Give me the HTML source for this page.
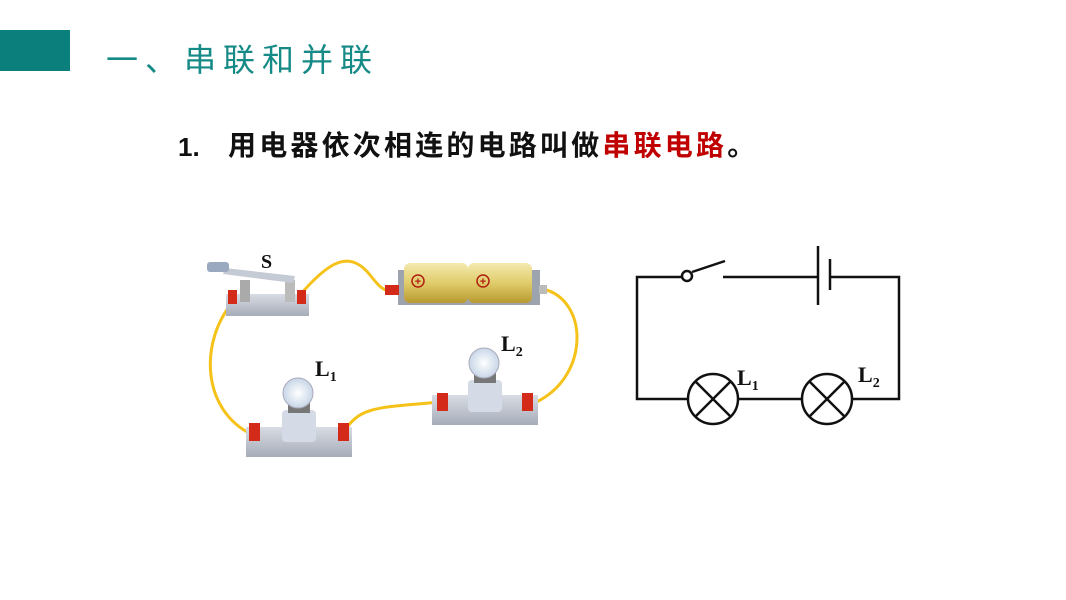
<!DOCTYPE html>
<html><head><meta charset="utf-8"><style>
body{margin:0;width:1066px;height:600px;background:#fff;position:relative;overflow:hidden;font-family:"Liberation Sans","Noto Sans CJK SC",sans-serif}
.blk{position:absolute;left:0;top:30px;width:70px;height:41px;background:#0a7f7c}
.t{position:absolute;left:106px;top:40px;font-size:32px;letter-spacing:7px;color:#168a86;line-height:40px;white-space:nowrap}
.n{position:absolute;left:178px;top:130px;font-size:26px;font-weight:bold;line-height:34px;color:#111}
.s{position:absolute;left:228px;top:129px;font-size:28px;font-weight:bold;letter-spacing:3.2px;line-height:34px;white-space:nowrap;color:#111}
.s span{color:#c00000}
svg{position:absolute;left:0;top:0}
</style></head><body>
<div class="blk"></div>
<div class="t">一、串联和并联</div>
<div class="n">1.</div>
<div class="s">用电器依次相连的电路叫做<span>串联电路</span>。</div>
<svg width="1066" height="600" viewBox="0 0 1066 600">
<defs>
<linearGradient id="bat" x1="0" y1="0" x2="0" y2="1"><stop offset="0" stop-color="#f4eab0"/><stop offset=".5" stop-color="#e0cc6a"/><stop offset="1" stop-color="#b89a30"/></linearGradient>
<linearGradient id="base" x1="0" y1="0" x2="0" y2="1"><stop offset="0" stop-color="#d8dce4"/><stop offset="1" stop-color="#a6acb8"/></linearGradient>
<radialGradient id="bulb"><stop offset="0" stop-color="#fff"/><stop offset="1" stop-color="#c8d6e8"/></radialGradient>
</defs>
<g fill="none" stroke="#f5c21a" stroke-width="3">
<path d="M300 295 C330 260 350 250 370 275 C378 285 382 290 390 291"/>
<path d="M233 302 C200 340 200 410 253 435"/>
<path d="M344 432 C360 405 380 408 440 402"/>
<path d="M543 289 C590 300 590 380 532 404"/>
</g>
<rect x="226" y="294" width="83" height="22" fill="url(#base)"/>
<rect x="240" y="280" width="10" height="22" fill="#aaa"/>
<rect x="285" y="280" width="10" height="22" fill="#bbb"/>
<polygon points="225,268 295,276 293,283 223,274" fill="#c5cbd4"/>
<rect x="207" y="262" width="22" height="10" rx="3" fill="#9aa8c0"/>
<rect x="228" y="290" width="9" height="14" fill="#d42a1a"/>
<rect x="297" y="290" width="9" height="14" fill="#d42a1a"/>
<polygon points="398,270 540,270 540,305 398,305" fill="#9ea4ae"/>
<rect x="404" y="263" width="64" height="40" rx="6" fill="url(#bat)"/>
<rect x="468" y="263" width="64" height="40" rx="6" fill="url(#bat)"/>
<circle cx="418" cy="281" r="6" fill="none" stroke="#b02010" stroke-width="1.5"/><text x="418" y="285" font-size="11" text-anchor="middle" fill="#b02010" font-weight="bold">+</text>
<circle cx="483" cy="281" r="6" fill="none" stroke="#b02010" stroke-width="1.5"/><text x="483" y="285" font-size="11" text-anchor="middle" fill="#b02010" font-weight="bold">+</text>
<rect x="385" y="285" width="14" height="10" fill="#d42a1a"/>
<rect x="539" y="285" width="8" height="9" fill="#bbb"/>
<rect x="246" y="427" width="106" height="30" fill="url(#base)"/>
<rect x="282" y="410" width="34" height="32" rx="4" fill="#d4dbe6"/>
<rect x="288" y="403" width="22" height="10" fill="#777"/>
<circle cx="298" cy="393" r="15" fill="url(#bulb)" stroke="#aab" stroke-width="1"/>
<rect x="249" y="423" width="11" height="18" fill="#d42a1a"/>
<rect x="338" y="423" width="11" height="18" fill="#d42a1a"/>
<rect x="432" y="395" width="106" height="30" fill="url(#base)"/>
<rect x="468" y="380" width="34" height="32" rx="4" fill="#d4dbe6"/>
<rect x="474" y="373" width="22" height="10" fill="#777"/>
<circle cx="484" cy="363" r="15" fill="url(#bulb)" stroke="#aab" stroke-width="1"/>
<rect x="437" y="393" width="11" height="18" fill="#d42a1a"/>
<rect x="522" y="393" width="11" height="18" fill="#d42a1a"/>
<g font-family="Liberation Serif,serif" font-weight="bold" fill="#111">
<text x="261" y="268" font-size="20">S</text>
<text x="315" y="376" font-size="22">L<tspan font-size="14" dy="5">1</tspan></text>
<text x="501" y="351" font-size="22">L<tspan font-size="14" dy="5">2</tspan></text>
</g>
<g fill="none" stroke="#111" stroke-width="2.5">
<polyline points="682,277 637,277 637,399 688,399"/>
<line x1="692" y1="272" x2="725" y2="261"/>
<line x1="723" y1="277" x2="818" y2="277"/>
<line x1="818" y1="246" x2="818" y2="305"/>
<line x1="830" y1="259" x2="830" y2="290"/>
<polyline points="830,277 899,277 899,399 852,399"/>
<line x1="738" y1="399" x2="802" y2="399"/>
<circle cx="687" cy="276" r="5" fill="#fff"/>
<circle cx="713" cy="399" r="25"/>
<line x1="695" y1="381" x2="731" y2="417"/><line x1="731" y1="381" x2="695" y2="417"/>
<circle cx="827" cy="399" r="25"/>
<line x1="809" y1="381" x2="845" y2="417"/><line x1="845" y1="381" x2="809" y2="417"/>
</g>
<g font-family="Liberation Serif,serif" font-weight="bold" fill="#111">
<text x="737" y="385" font-size="22">L<tspan font-size="14" dy="5">1</tspan></text>
<text x="858" y="382" font-size="22">L<tspan font-size="14" dy="5">2</tspan></text>
</g>
</svg>
</body></html>
